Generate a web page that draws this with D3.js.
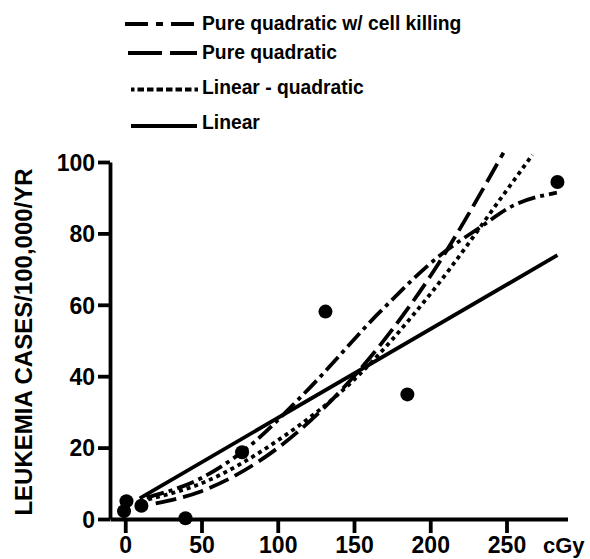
<!DOCTYPE html>
<html>
<head>
<meta charset="utf-8">
<script src="https://cdn.jsdelivr.net/npm/d3@7"></script>
<style>
  html, body { margin: 0; padding: 0; background: #fff; }
  svg { display: block; }
  text { font-family: "Liberation Sans", Arial, Helvetica, sans-serif; font-weight: bold; fill: #000; }
</style>
</head>
<body>
<div id="chart"></div>
<script>
// ---- Data ----
const doseX  = [-0.8, 0.8, 10.6, 39.5, 76.6, 131.3, 185, 283.4];
const casesY = [2.2, 5.0, 3.7, 0.2, 18.7, 58.1, 34.9, 94.4];

const linearX = [9.5, 283.4];
const linearY = [5.8, 73.9];

const linQuadX = [15, 50, 100, 150, 200, 250, 267];
const linQuadY = [5.5, 10, 22, 39, 63, 92, 102];

const pureQuadX = [20, 50, 100, 150, 200, 248];
const pureQuadY = [4.4, 7.8, 19.9, 40, 68, 102.6];

const cellKillX = [14, 50, 77, 117, 167, 208, 232, 254, 283];
const cellKillY = [6, 11.5, 18.9, 35, 58, 74.4, 81.5, 87.7, 91.4];

const xTicks = [0, 50, 100, 150, 200, 250];
const yTicks = [0, 20, 40, 60, 80, 100];

const legendLabels = ["Pure quadratic w/ cell killing", "Pure quadratic", "Linear - quadratic", "Linear"];
const yTitle = "LEUKEMIA CASES/100,000/YR";
const xUnit = "cGy";

// ---- Drawing ----
const W = 590, H = 559;
const svg = d3.select("#chart").append("svg").attr("width", W).attr("height", H);
svg.append("rect").attr("width", W).attr("height", H).attr("fill", "#fff");

const x = d3.scaleLinear().domain([-10, 290]).range([110, 567.5]);
const y = d3.scaleLinear().domain([0, 100]).range([519, 162]);

const SW = 3.8;

// Axes
const yAxis = d3.axisLeft(y).tickValues(yTicks).tickSize(12).tickSizeOuter(0).tickPadding(3);
const gy = svg.append("g").attr("transform", `translate(${x(-10)},0)`).call(yAxis);
const xAxis = d3.axisBottom(x).tickValues(xTicks).tickSize(14).tickSizeOuter(0).tickPadding(4);
const gx = svg.append("g").attr("transform", `translate(0,${y(0)})`).call(xAxis);

[gx, gy].forEach(g => {
  g.select(".domain").attr("stroke", "#000").attr("stroke-width", SW);
  g.selectAll(".tick line").attr("stroke", "#000").attr("stroke-width", SW);
  g.selectAll(".tick text").style("font-size", "23px").style("font-weight", "bold")
    .style("font-family", '"Liberation Sans", Arial, sans-serif').attr("fill", "#000");
});
gy.selectAll(".tick text").attr("dy", "0.36em");
gx.selectAll(".tick text").attr("dy", "0.7em");

svg.append("text").attr("x", 543).attr("y", 553).style("font-size", "22px").text(xUnit);

svg.append("text")
  .attr("transform", "translate(31.5,342) rotate(-90)")
  .attr("text-anchor", "middle")
  .style("font-size", "24px")
  .text(yTitle);

// Curves
const line = d3.line().x(d => x(d[0])).y(d => y(d[1])).curve(d3.curveMonotoneX);
const zip = (xs, ys) => xs.map((v, i) => [v, ys[i]]);

const series = [
  { pts: zip(linearX, linearY), dash: null },
  { pts: zip(linQuadX, linQuadY), dash: "4,4" },
  { pts: zip(pureQuadX, pureQuadY), dash: "21,7" },
  { pts: zip(cellKillX, cellKillY), dash: "18,5,4,5" }
];
series.forEach(s => {
  svg.append("path").attr("d", line(s.pts)).attr("fill", "none")
    .attr("stroke", "#000").attr("stroke-width", SW)
    .attr("stroke-dasharray", s.dash);
});

// Points
svg.selectAll("circle.pt").data(zip(doseX, casesY)).enter().append("circle")
  .attr("class", "pt").attr("cx", d => x(d[0])).attr("cy", d => y(d[1]))
  .attr("r", 7).attr("fill", "#000");

// Legend
const leg = [
  { x1: 125, x2: 196, y: 24, dash: "23,8,7,8", ty: 30 },
  { x1: 128, x2: 197, y: 53, dash: "34,8", ty: 58.5 },
  { x1: 131, x2: 199, y: 89.5, dash: "3.5,3,6.5,3,6.5,3,6.5,3,6.5,3,6.5,3,6.5,3", ty: 93.5 },
  { x1: 131, x2: 197, y: 126, dash: null, ty: 128.5 }
];
leg.forEach((l, i) => {
  svg.append("line").attr("x1", l.x1).attr("x2", l.x2).attr("y1", l.y).attr("y2", l.y)
    .attr("stroke", "#000").attr("stroke-width", SW).attr("stroke-dasharray", l.dash);
  svg.append("text").attr("x", 202).attr("y", l.ty).style("font-size", "19.3px").text(legendLabels[i]);
});
</script>
</body>
</html>
